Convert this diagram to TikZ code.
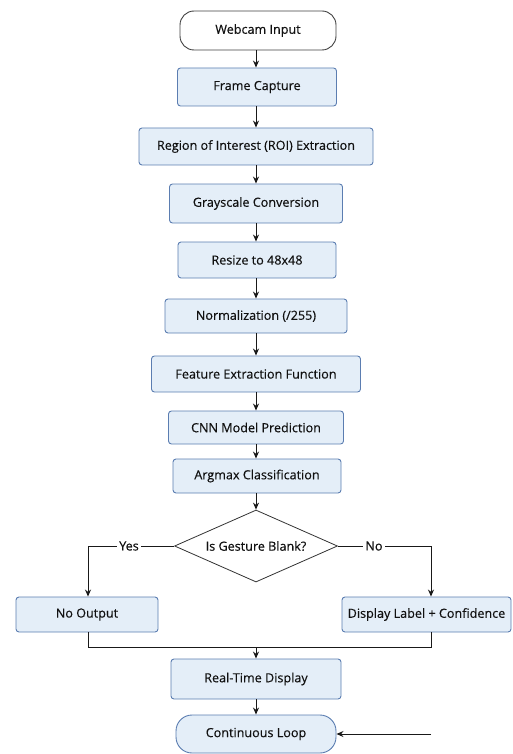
\documentclass[tikz,border=0pt]{standalone}
\usepackage{fontspec}
\setmainfont{Open Sans}[FakeBold=0.35]
\usetikzlibrary{shapes.geometric,arrows.meta}
\definecolor{boxfill}{HTML}{E4EEF8}
\definecolor{boxline}{HTML}{5B7DB1}
\definecolor{txt}{HTML}{111111}
\begin{document}
\begin{tikzpicture}[x=1pt,y=-1pt,
  every node/.style={font=\fontsize{12.6}{15}\selectfont, text=txt},
  procbox/.style={draw=boxline, fill=boxfill, line width=0.9pt, rounded corners=3pt, inner sep=0pt},
  termwhite/.style={draw=black!75, fill=white, line width=0.9pt, rounded corners=14pt, inner sep=0pt},
  termblue/.style={draw=boxline, fill=boxfill, line width=0.9pt, rounded corners=16pt, inner sep=0pt},
  decis/.style={draw=black!80, fill=white, line width=0.8pt, diamond, aspect=2.26, inner sep=0pt, minimum width=163pt, minimum height=72pt},
  flow/.style={draw=black!90, line width=1pt, -{Stealth[length=7pt,width=6pt]}},
  seg/.style={draw=black!90, line width=1pt},
  lbl/.style={fill=white, inner sep=2pt}
]
\useasboundingbox (0,0) rectangle (512,754);
\node[termwhite, minimum width=156pt, minimum height=39pt] (webcam) at (258,30.5) {Webcam Input};
\node[procbox, minimum width=159pt, minimum height=38pt] (frame) at (257,87) {Frame Capture};
\node[procbox, minimum width=234pt, minimum height=37pt] (roi) at (256,146.5) {Region of Interest (ROI) Extraction};
\node[procbox, minimum width=173pt, minimum height=39pt] (gray) at (256,203.5) {Grayscale Conversion};
\node[procbox, minimum width=158pt, minimum height=36pt] (resize) at (257,260) {Resize to 48x48};
\node[procbox, minimum width=182pt, minimum height=34pt] (norm) at (256,316) {Normalization (/255)};
\node[procbox, minimum width=209pt, minimum height=36pt] (feat) at (256,374) {Feature Extraction Function};
\node[procbox, minimum width=175pt, minimum height=33pt] (cnn) at (256,427.5) {CNN Model Prediction};
\node[procbox, minimum width=168pt, minimum height=34pt] (argmax) at (257,476) {Argmax Classification};
\node[decis] (dec) at (256,546) {Is Gesture Blank?};
\node[procbox, minimum width=142pt, minimum height=35pt] (noout) at (87,614.5) {No Output};
\node[procbox, minimum width=169pt, minimum height=35pt] (disp) at (426.5,614.5) {Display Label + Confidence};
\node[procbox, minimum width=170pt, minimum height=40pt] (rt) at (256,679) {Real-Time Display};
\node[termblue, minimum width=160pt, minimum height=38pt] (loop) at (256,734) {Continuous Loop};

\coordinate (yesc) at (88,546);
\coordinate (noc) at (431,546);
\coordinate (mergeL) at (88,647);
\coordinate (mergeR) at (431,647);
\coordinate (mergeM) at (256,647);
\coordinate (loopin) at (431,734);

\draw[flow] (webcam.south -| 256,0) -- (frame.north -| 256,0);
\draw[flow] (frame.south -| 256,0) -- (roi.north -| 256,0);
\draw[flow] (roi.south -| 256,0) -- (gray.north -| 256,0);
\draw[flow] (gray.south -| 256,0) -- (resize.north -| 256,0);
\draw[flow] (resize.south -| 256,0) -- (norm.north -| 256,0);
\draw[flow] (norm.south -| 256,0) -- (feat.north -| 256,0);
\draw[flow] (feat.south -| 256,0) -- (cnn.north -| 256,0);
\draw[flow] (cnn.south -| 256,0) -- (argmax.north -| 256,0);
\draw[flow] (argmax.south -| 256,0) -- (dec.north);

\draw[flow] (dec.west) -- (yesc) -- (noout.north -| yesc);
\draw[flow] (dec.east) -- (noc) -- (disp.north -| noc);
\node[lbl] (yes) at (129,546) {Yes};
\node[lbl] (no) at (374,546) {No};

\draw[seg] (noout.south -| mergeL) -- (mergeL) -- (mergeR) -- (disp.south -| mergeR);
\draw[flow] (mergeM) -- (rt.north);
\draw[flow] (rt.south) -- (loop.north);
\draw[flow] (loopin) -- (loop.east);
\end{tikzpicture}
\end{document}
